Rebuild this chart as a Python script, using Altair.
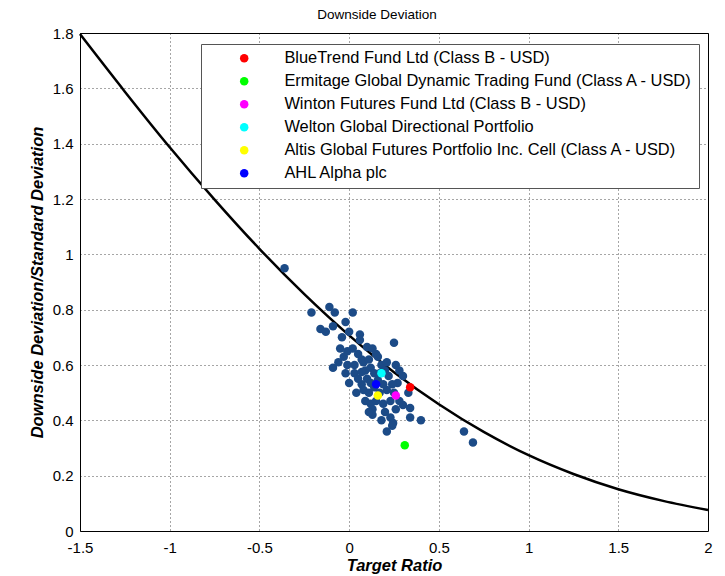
import altair as alt
import pandas as pd

# Theoretical curve values (Target Ratio vs DD/SD)
curve_x = [-1.5, -1.25, -1.0, -0.75, -0.5, -0.25, 0.0, 0.25, 0.5, 0.75, 1.0, 1.25, 1.5, 1.75, 2.0]
curve_y = [1.796, 1.588, 1.387, 1.198, 1.020, 0.856, 0.707, 0.574, 0.458, 0.358, 0.274, 0.206, 0.151, 0.109, 0.076]

# Peer universe (dark blue dots)
peer_x = [-0.36, -0.21, -0.11, -0.08, 0.02, -0.02, -0.16, -0.13, -0.09, 0.00, -0.04, 0.06, 0.06,
          -0.05, 0.10, 0.13, 0.25, -0.03, 0.05, 0.16, -0.09, 0.26, -0.02, 0.03, 0.00, 0.07, 0.08,
          0.11, 0.12, 0.13, 0.13, 0.20, 0.23, 0.245, 0.24, 0.30, 0.34, 0.34, 0.40, 0.23, 0.21,
          0.27, 0.30, 0.16, -0.01, 0.08, 0.03, 0.09, 0.12, 0.14, 0.10, 0.05, 0.18, 0.20, 0.22,
          0.19, 0.14, 0.17, 0.07, -0.06, 0.11, 0.04, 0.09, 0.15, 0.19, 0.25, 0.28, 0.26, 0.18,
          0.21, 0.11, 0.02, 0.15, -0.01, 0.07, 0.12, 0.24, 0.17, 0.21, 0.28, 0.33, 0.64, 0.69]
peer_y = [0.95, 0.79, 0.81, 0.79, 0.79, 0.755, 0.73, 0.72, 0.74, 0.72, 0.70, 0.71, 0.69,
          0.66, 0.665, 0.66, 0.68, 0.63, 0.64, 0.63, 0.59, 0.60, 0.57, 0.57, 0.535, 0.53, 0.51,
          0.50, 0.46, 0.44, 0.42, 0.43, 0.41, 0.39, 0.38, 0.455, 0.445, 0.41, 0.40, 0.47, 0.51,
          0.535, 0.56, 0.545, 0.65, 0.61, 0.60, 0.58, 0.59, 0.57, 0.55, 0.55, 0.60, 0.58, 0.56,
          0.53, 0.52, 0.50, 0.62, 0.61, 0.62, 0.50, 0.47, 0.47, 0.46, 0.50, 0.47, 0.44, 0.40,
          0.36, 0.43, 0.66, 0.64, 0.60, 0.575, 0.535, 0.53, 0.57, 0.61, 0.58, 0.50, 0.36, 0.32]

# Highlighted funds
fund_names = [
    "BlueTrend Fund Ltd (Class B - USD)",
    "Ermitage Global Dynamic Trading Fund (Class A - USD)",
    "Winton Futures Fund Ltd (Class B - USD)",
    "Welton Global Directional Portfolio",
    "Altis Global Futures Portfolio Inc. Cell (Class A - USD)",
    "AHL Alpha plc",
]
fund_x = [0.34, 0.31, 0.26, 0.18, 0.16, 0.15]
fund_y = [0.52, 0.31, 0.49, 0.57, 0.49, 0.53]
fund_colors = ["#ff0000", "#00ff00", "#ff00ff", "#00ffff", "#ffff00", "#0000ff"]

curve_df = pd.DataFrame({"x": curve_x, "y": curve_y})
peer_df = pd.DataFrame({"x": peer_x, "y": peer_y})
fund_df = pd.DataFrame({"x": fund_x, "y": fund_y, "fund": fund_names})

FONT = "Liberation Sans"

xscale = alt.Scale(domain=[-1.5, 2], nice=False, zero=False)
yscale = alt.Scale(domain=[0, 1.8], nice=False, zero=False)
lab = "datum.value < 0 ? '-' + format(-datum.value, '~g') : format(datum.value, '~g')"

xenc = alt.X("x:Q", scale=xscale,
             axis=alt.Axis(values=[-1.5, -1, -0.5, 0, 0.5, 1, 1.5, 2], labelExpr=lab,
                           labelFlush=False, labelPadding=9,
                           title="Target Ratio", titlePadding=2))
yenc = alt.Y("y:Q", scale=yscale,
             axis=alt.Axis(values=[0, 0.2, 0.4, 0.6, 0.8, 1.0, 1.2, 1.4, 1.6, 1.8], labelExpr=lab,
                           labelFlush=False, labelPadding=7,
                           title="Downside Deviation/Standard Deviation", titlePadding=7))

curve = alt.Chart(curve_df).mark_line(color="black", strokeWidth=2.5, interpolate="monotone").encode(
    x=xenc, y=yenc)

peers = alt.Chart(peer_df).mark_circle(color="#1c4b87", opacity=1, size=72).encode(
    x="x:Q", y="y:Q")

funds = alt.Chart(fund_df).mark_circle(opacity=1, size=72).encode(
    x="x:Q", y="y:Q",
    color=alt.Color("fund:N",
                    scale=alt.Scale(domain=fund_names, range=fund_colors),
                    sort=fund_names,
                    legend=alt.Legend(title=None, orient="none", legendX=121, legendY=11,
                                      symbolType="circle", symbolSize=72, symbolOffset=29,
                                      labelFontSize=16.4, labelFont=FONT, labelColor="black",
                                      labelOffset=32, rowPadding=6, padding=6,
                                      fillColor="white", strokeColor="#555555",
                                      labelLimit=700)))

chart = (curve + peers + funds).properties(
    width=628, height=498,
    background="white",
    title=alt.TitleParams("Downside Deviation", font=FONT, fontSize=13.5, fontWeight="normal",
                          color="black", offset=5, dx=-17),
    autosize=alt.AutoSizeParams(type="none"),
    padding={"left": 80, "top": 33, "right": 17, "bottom": 45},
).configure_view(stroke="black", strokeWidth=1).configure_axis(
    grid=True, gridColor="black", gridDash=[1, 3], gridOpacity=0.7, gridWidth=1,
    domain=False, ticks=False, labelFont=FONT, labelFontSize=15, labelColor="black",
    titleFont=FONT, titleFontSize=16.5, titleFontWeight="bold",
    titleFontStyle="italic", titleColor="black"
)

chart.save("out.html", embed_options={"renderer": "svg", "actions": False})
